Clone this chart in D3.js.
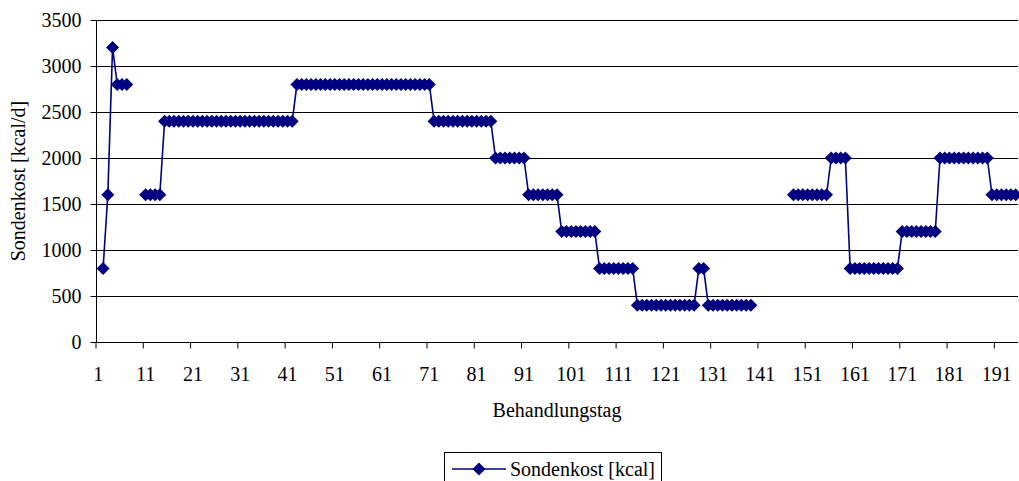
<!DOCTYPE html>
<html>
<head>
<meta charset="utf-8">
<script src="https://cdn.jsdelivr.net/npm/d3@7"></script>
<style>
  html, body { margin: 0; padding: 0; background: #fff; }
  svg text { font-family: "Liberation Serif", "Times New Roman", Times, "DejaVu Serif", serif !important; }
</style>
</head>
<body>
<svg id="chart" width="1019" height="481"></svg>
<script>
// Treatment days (category axis) and daily tube-feeding amount in kcal.
const days = d3.range(1, 196);
const sondenkost = [
  null, 800, 1600, 3200, 2800, 2800, 2800, null, null, null,
  1600, 1600, 1600, 1600, 2400, 2400, 2400, 2400, 2400, 2400,
  2400, 2400, 2400, 2400, 2400, 2400, 2400, 2400, 2400, 2400,
  2400, 2400, 2400, 2400, 2400, 2400, 2400, 2400, 2400, 2400,
  2400, 2400, 2800, 2800, 2800, 2800, 2800, 2800, 2800, 2800,
  2800, 2800, 2800, 2800, 2800, 2800, 2800, 2800, 2800, 2800,
  2800, 2800, 2800, 2800, 2800, 2800, 2800, 2800, 2800, 2800,
  2800, 2400, 2400, 2400, 2400, 2400, 2400, 2400, 2400, 2400,
  2400, 2400, 2400, 2400, 2000, 2000, 2000, 2000, 2000, 2000,
  2000, 1600, 1600, 1600, 1600, 1600, 1600, 1600, 1200, 1200,
  1200, 1200, 1200, 1200, 1200, 1200, 800, 800, 800, 800,
  800, 800, 800, 800, 400, 400, 400, 400, 400, 400,
  400, 400, 400, 400, 400, 400, 400, 800, 800, 400,
  400, 400, 400, 400, 400, 400, 400, 400, 400, null,
  null, null, null, null, null, null, null, 1600, 1600, 1600,
  1600, 1600, 1600, 1600, 1600, 2000, 2000, 2000, 2000, 800,
  800, 800, 800, 800, 800, 800, 800, 800, 800, 800,
  1200, 1200, 1200, 1200, 1200, 1200, 1200, 1200, 2000, 2000,
  2000, 2000, 2000, 2000, 2000, 2000, 2000, 2000, 2000, 1600,
  1600, 1600, 1600, 1600, 1600
];
const xTickDays = [1, 11, 21, 31, 41, 51, 61, 71, 81, 91, 101, 111, 121, 131, 141, 151, 161, 171, 181, 191];
const yTicks = [0, 500, 1000, 1500, 2000, 2500, 3000, 3500];
const seriesName = "Sondenkost [kcal]";
const xTitle = "Behandlungstag";
const yTitle = "Sondenkost [kcal/d]";

const svg = d3.select("#chart");
const plot = { left: 96, right: 1018, top: 20, bottom: 342 };
const navy = "#000080";
const fontSize = 20;

const x = d3.scaleBand().domain(days).range([plot.left, plot.right]).padding(0);
const bw = x.bandwidth();
const cx = d => x(d) + bw / 2;
const y = d3.scaleLinear().domain([0, 3500]).range([plot.bottom, plot.top]);

// Horizontal gridlines
svg.append("g")
  .selectAll("line")
  .data(yTicks.filter(v => v > 0))
  .join("line")
  .attr("x1", plot.left).attr("x2", plot.right)
  .attr("y1", d => Math.round(y(d)) + 0.5).attr("y2", d => Math.round(y(d)) + 0.5)
  .attr("stroke", "#000").attr("stroke-width", 1);

// Y axis
const yAxis = svg.append("g")
  .attr("transform", `translate(${plot.left + 0.5},0)`)
  .call(d3.axisLeft(y).tickValues(yTicks).tickSize(6).tickPadding(9).tickFormat(d3.format("d")));
yAxis.attr("font-family", null);
yAxis.select(".domain").attr("stroke", "#000").attr("d", `M0,${plot.top}V${plot.bottom}`);
yAxis.selectAll(".tick line").attr("stroke", "#000");
yAxis.selectAll("text").attr("font-size", fontSize).attr("fill", "#000");

// X axis: tick marks at category boundaries, labels centered on categories
const xAxis = svg.append("g")
  .attr("transform", `translate(0,${plot.bottom + 0.5})`)
  .call(d3.axisBottom(x).tickValues(xTickDays).tickSize(6).tickPadding(18));
xAxis.attr("font-family", null);
xAxis.select(".domain").attr("stroke", "#000").attr("d", `M${plot.left},0H${plot.right}`);
xAxis.selectAll(".tick line").attr("stroke", "#000")
  .attr("x1", -bw / 2).attr("x2", -bw / 2);
xAxis.selectAll("text").attr("font-size", fontSize).attr("fill", "#000");

// Axis titles
svg.append("text")
  .attr("x", (plot.left + plot.right) / 2).attr("y", 417)
  .attr("text-anchor", "middle").attr("font-size", fontSize)
  .text(xTitle);
svg.append("text")
  .attr("transform", `translate(25,${(plot.top + plot.bottom) / 2}) rotate(-90)`)
  .attr("text-anchor", "middle").attr("font-size", fontSize)
  .text(yTitle);

// Series line (gaps where no value was recorded)
const pts = days.map((d, i) => ({ day: d, v: sondenkost[i] }));
const line = d3.line()
  .defined(p => p.v !== null)
  .x(p => cx(p.day)).y(p => y(p.v));
svg.append("path")
  .datum(pts)
  .attr("fill", "none").attr("stroke", navy).attr("stroke-width", 1.6)
  .attr("d", line);

// Diamond markers
const r = 6.5;
const diamond = `M0,${-r}L${r},0L0,${r}L${-r},0Z`;
svg.append("g")
  .selectAll("path")
  .data(pts.filter(p => p.v !== null))
  .join("path")
  .attr("transform", p => `translate(${cx(p.day)},${y(p.v)})`)
  .attr("d", diamond)
  .attr("fill", navy);

// Legend
const legend = svg.append("g");
const lgX = 444, lgY = 452;
const lgText = legend.append("text")
  .attr("x", lgX + 66).attr("y", 476)
  .attr("font-size", fontSize).text(seriesName);
const tw = lgText.node().getComputedTextLength();
legend.insert("rect", "text")
  .attr("x", lgX + 0.5).attr("y", lgY + 0.5)
  .attr("width", tw + 72).attr("height", 60)
  .attr("fill", "#fff").attr("stroke", "#000").attr("stroke-width", 1);
legend.append("line")
  .attr("x1", lgX + 8).attr("x2", lgX + 62)
  .attr("y1", 469).attr("y2", 469)
  .attr("stroke", navy).attr("stroke-width", 1.6);
legend.append("path")
  .attr("transform", `translate(${lgX + 35},469)`)
  .attr("d", diamond).attr("fill", navy);
</script>
</body>
</html>
